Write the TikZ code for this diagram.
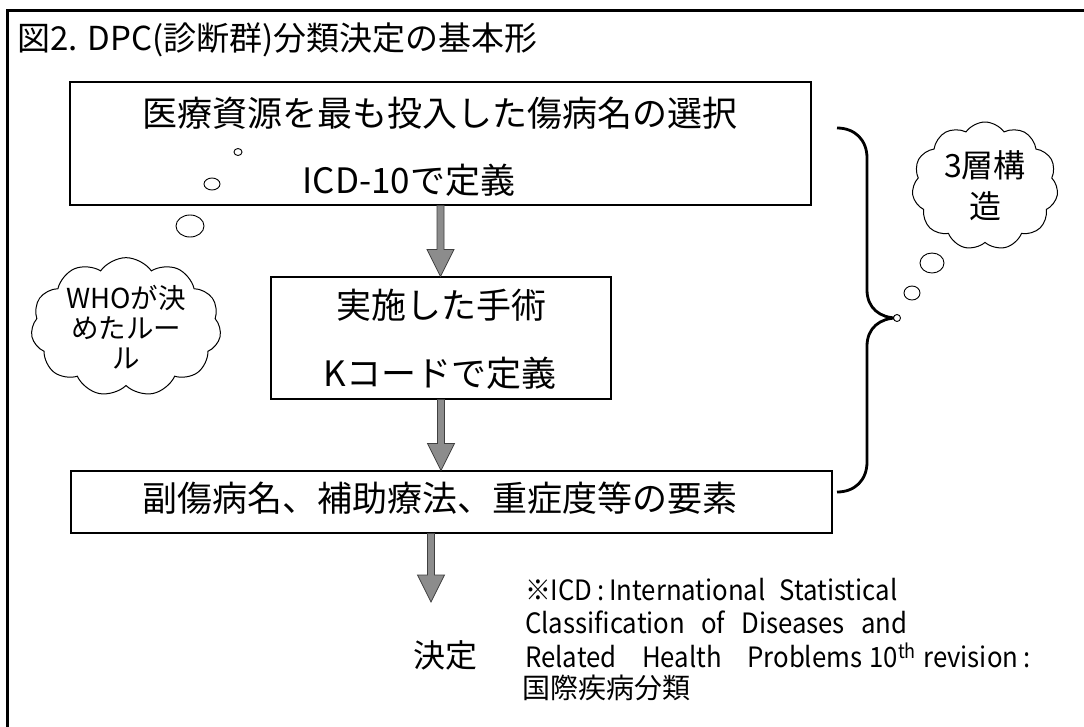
\documentclass[tikz,border=0pt]{standalone}
\usepackage{fontspec}
\setmainfont{Noto Sans CJK JP}
\newfontfamily\narrowjp[FakeStretch=0.92]{Noto Sans CJK JP}
\usetikzlibrary{shapes.symbols,shapes.geometric,calc}
\definecolor{arrowgray}{RGB}{140,140,140}
\begin{document}
\begin{tikzpicture}[x=1pt,y=-1pt,
  boxstyle/.style={draw, line width=1.1pt, inner sep=0pt},
  bigtxt/.style={font=\fontsize{35}{40}\selectfont, inner sep=0pt},
  foot/.style={font=\narrowjp\fontsize{28}{32}\selectfont, inner sep=0pt, anchor=west},
  bubble/.style={draw, line width=0.9pt, fill=white, ellipse, inner sep=0pt},
  thought/.style={cloud, draw, line width=1pt, cloud puffs=11, cloud puff arc=110, cloud ignores aspect, align=center, inner sep=0pt},
  fatarrow/.style={draw=black!75, line width=0.8pt, fill=arrowgray,
    to path={let \p1=(\tikztostart), \p2=(\tikztotarget) in
      (\x1-3.5pt,\y1) -- (\x1+3.5pt,\y1) -- (\x1+3.5pt,\y2+27pt) -- (\x1+13.5pt,\y2+27pt)
      -- (\x1,\y2) -- (\x1-13.5pt,\y2+27pt) -- (\x1-3.5pt,\y2+27pt) -- cycle}}
]
\useasboundingbox (0,0) rectangle (1084,726);
\fill[white] (0,0) rectangle (1084,726);
% outer frame (cropped)
\draw[line width=3pt] (7,728) -- (7,10) -- (1086,10);
% title
\node[anchor=west, inner sep=0pt, font=\fontsize{33}{38}\selectfont] (title) at (17,40) {図2. DPC(診断群)分類決定の基本形};
% boxes
\node[boxstyle, minimum width=741pt, minimum height=123pt] (b1) at (440.5,143.5) {};
\node[bigtxt] (t1a) at (440,113) {医療資源を最も投入した傷病名の選択};
\node[bigtxt] (t1b) at (409,180) {ICD-10で定義};
\node[boxstyle, minimum width=340pt, minimum height=122pt] (b2) at (441,338) {};
\node[bigtxt] (t2a) at (441,305) {実施した手術};
\node[bigtxt] (t2b) at (440,373) {Kコードで定義};
\node[boxstyle, minimum width=761pt, minimum height=62pt] (b3) at (451.5,502) {};
\node[bigtxt] (t3) at (440,498) {副傷病名、補助療法、重症度等の要素};
% arrows
\coordinate (a3) at (431,602);
\draw[fatarrow] (b1.south) to (b2.north);
\draw[fatarrow] (b2.south) to (b3.north);
\draw[fatarrow] (b3.south -| a3) to (a3);
\node[inner sep=0pt, font=\fontsize{32}{36}\selectfont] (kettei) at (445,655) {決定};
% footnote
\node[foot] (f1) at (525,590) {\makebox[378pt][s]{※ICD\,:\,International\hspace{14pt}Statistical}};
\node[foot] (f2) at (525,622) {\makebox[382pt][s]{Classification of Diseases and}};
\node[foot] (f3) at (525,655) {\makebox[505pt][s]{Related Health Problems\hspace{7pt}10\textsuperscript{th}\hspace{7pt}revision\,:}};
\node[anchor=west, inner sep=0pt, font=\fontsize{28}{32}\selectfont] (f4) at (522,688) {国際疾病分類};
% left thought cloud
\node[bubble, minimum width=8pt, minimum height=7pt] (lb1) at (238,152) {};
\node[bubble, minimum width=16pt, minimum height=12pt] (lb2) at (212,184) {};
\node[bubble, minimum width=28pt, minimum height=22pt] (lb3) at (190,226) {};
\node[thought, minimum width=190pt, minimum height=136pt, font=\fontsize{27.5}{30}\selectfont] (who) at (126,327) {WHOが決\\めたルー\\ル};
% brace
\draw[line width=2.8pt] (837,128) .. controls (855,128) and (867,140) .. (867,158)
  -- (867,290) .. controls (867,308) and (880,318) .. (897,318)
  .. controls (880,318) and (867,328) .. (867,346)
  -- (867,462) .. controls (867,480) and (855,492) .. (837,492);
\node[bubble, circle, minimum size=7pt] (tip) at (897,318) {};
% right thought cloud
\node[bubble, minimum width=16pt, minimum height=14pt] (rb1) at (912,293) {};
\node[bubble, minimum width=24pt, minimum height=20pt] (rb2) at (932,263) {};
\node[thought, minimum width=146pt, minimum height=128pt, font=\fontsize{32}{41}\selectfont] (layer) at (985,186) {3層構\\造};
\end{tikzpicture}
\end{document}
